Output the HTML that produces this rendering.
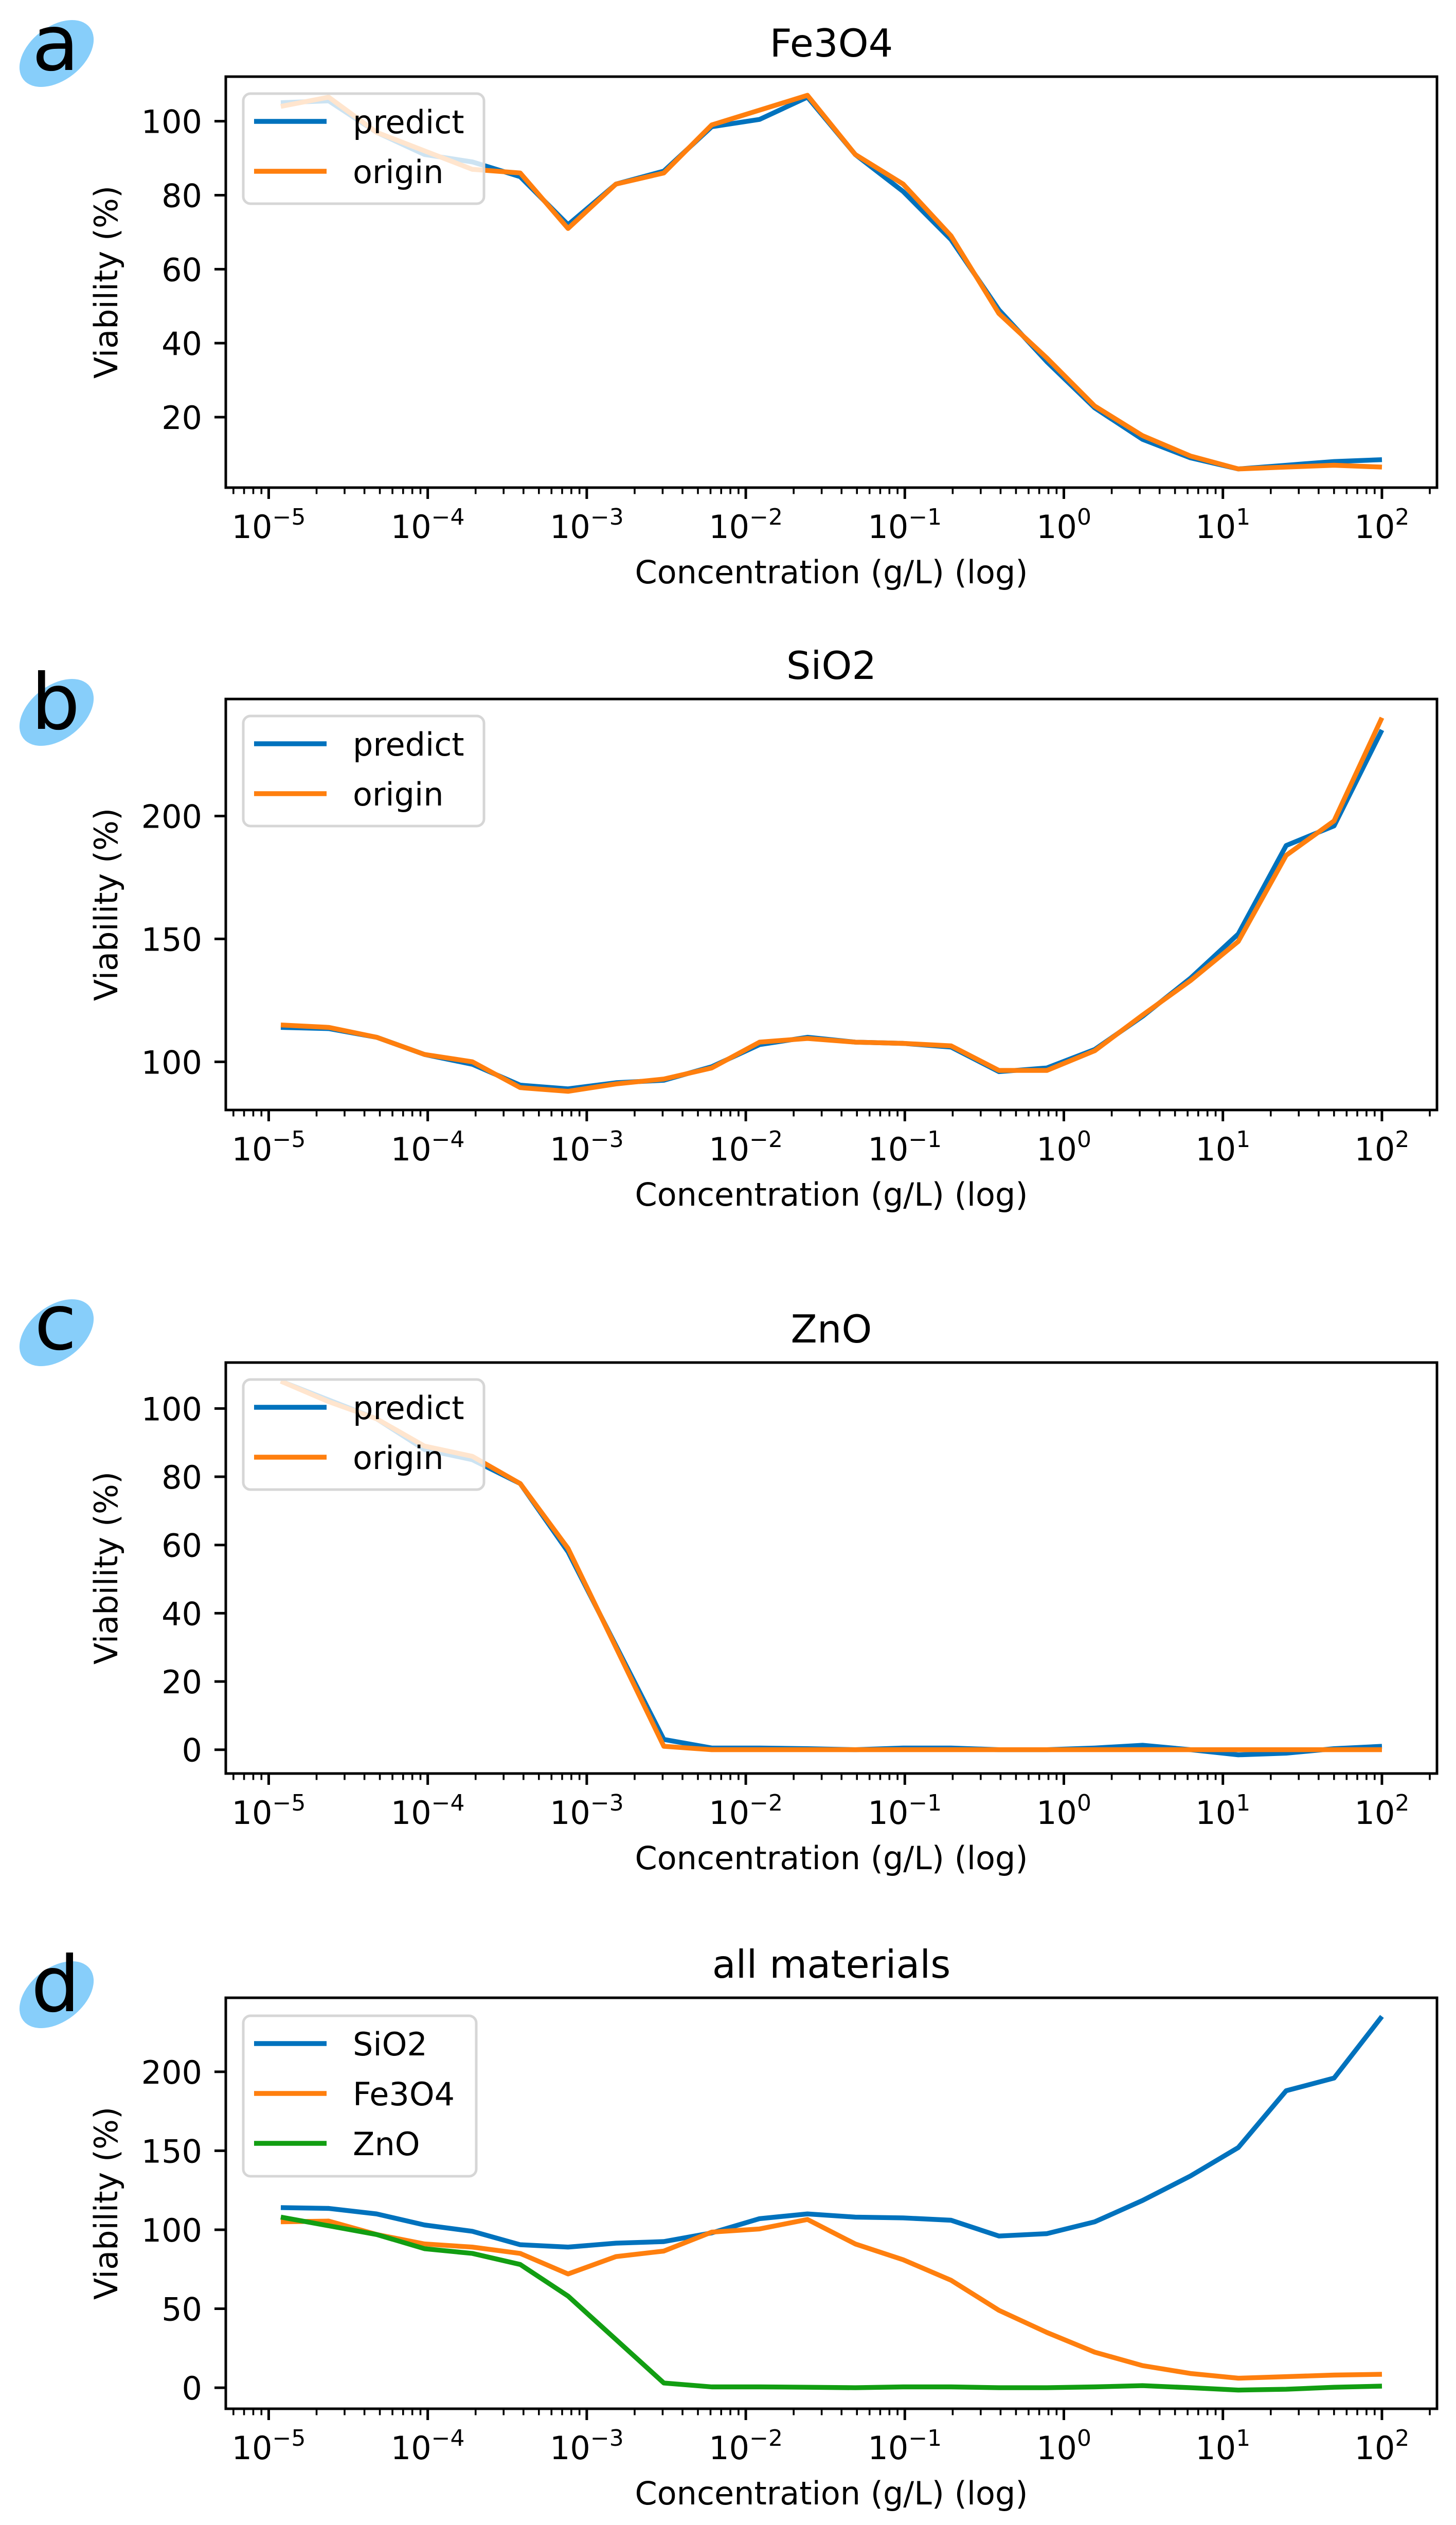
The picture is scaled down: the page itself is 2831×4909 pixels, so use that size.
<!DOCTYPE html>
<html><head><meta charset="utf-8"><style>
html,body{margin:0;padding:0;background:#fff}
svg{display:block;font-family:"DejaVu Sans","Liberation Sans",sans-serif}
</style></head><body>
<svg id="fig" width="2831" height="4909" viewBox="0 0 2831 4909" xmlns="http://www.w3.org/2000/svg"></svg>
<script>
// concentrations (g/L): 100/2^k, k=23..0
const conc = [1.1920929e-5,2.3841858e-5,4.7683716e-5,9.5367432e-5,1.9073486e-4,3.8146973e-4,7.6293945e-4,1.5258789e-3,3.0517578e-3,6.1035156e-3,0.012207031,0.024414063,0.048828125,0.09765625,0.1953125,0.390625,0.78125,1.5625,3.125,6.25,12.5,25,50,100];
const fePredict = [105,105.5,97,91,89,85,72,83,86.5,98.5,100.5,106.5,91,81,68,49,35,22.5,14,9,6,7,8,8.5];
const feOrigin  = [104,106.5,97,92,87,86,71,83,86,99,103,107,91,83,69,48,36,23,15,9.5,6,6.5,7,6.5];
const siPredict = [114,113.5,110,103,99,90.5,89,91.5,92.5,98,107,110,108,107.5,106,96,97.5,105,118.5,134,152,188,196,235];
const siOrigin  = [115,114,110,103,100,89.5,88,91,93,97.5,108,109.5,108,107.5,106.5,96.5,96.5,104.5,119,133,149,184,198,240];
const znPredict = [108,102.5,97,88,85,78,58,30.5,3,0.5,0.5,0.3,0,0.5,0.5,0,0,0.5,1.3,0,-1.5,-1,0.3,1];
const znOrigin  = [108,102,97,89,86,78,59,30,1,0,0,0,0,0,0,0,0,0,0,0,0,0,0,0];
const xTickExps = [-5,-4,-3,-2,-1,0,1,2];
const yTicksA = [20,40,60,80,100];
const yTicksB = [100,150,200];
const yTicksC = [0,20,40,60,80,100];
const yTicksD = [0,50,100,150,200];

const BLUE="#0072bd", ORANGE="#ff7f0e", GREEN="#129e12";
const NS="http://www.w3.org/2000/svg";
const svg=document.getElementById('fig');
function mk(tag,attrs,parent){const e=document.createElementNS(NS,tag);for(const k in attrs)e.setAttribute(k,attrs[k]);(parent||svg).appendChild(e);return e;}

const AX_L=439, AX_R=2794, AX_H=799;
const FS=62, LW=9.4, SW=5, MAJ=22, MIN=12.5;
const lx0=Math.log10(conc[0]), lx1=Math.log10(conc[conc.length-1]);
const xm=(lx1-lx0)*0.05, xmin=lx0-xm, xmax=lx1+xm;
function xS(v){return AX_L+(Math.log10(v)-xmin)/(xmax-xmin)*(AX_R-AX_L);}

function panel(id,letter,letterCY,top,title,series,yTicks,legendTop,legendH){
  const g=mk('g',{});
  
  
  let all=[];series.forEach(s=>all=all.concat(s.data));
  const mn=Math.min(...all), mx=Math.max(...all), m=(mx-mn)*0.05;
  const ymin=mn-m, ymax=mx+m, bot=top+AX_H;
  const yS=v=>bot-(v-ymin)/(ymax-ymin)*AX_H;
  const el=mk('ellipse',{cx:110,cy:letterCY,rx:82,ry:52,fill:"#87cefa",transform:`rotate(-38 110 ${letterCY})`},g);
  
  
  const lt=mk('text',{x:108,y:letterCY+32,'font-size':150,'text-anchor':'middle',fill:'#000'},g);
  lt.textContent=letter;
  
  
  const tt=mk('text',{x:(AX_L+AX_R)/2,y:top-39,'font-size':75,'text-anchor':'middle'},g);
  tt.textContent=title;
  
  
  const clip='clip'+id;
  const cp=mk('clipPath',{id:clip},g);mk('rect',{x:AX_L,y:top,width:AX_R-AX_L,height:AX_H},cp);
  series.forEach(s=>{
    const d=s.data.map((v,i)=>(i?'L':'M')+xS(conc[i]).toFixed(1)+' '+yS(v).toFixed(1)).join(' ');
    const p=mk('path',{d:d,fill:'none',stroke:s.color,'stroke-width':LW,'stroke-linejoin':'round','clip-path':`url(#${clip})`},g);
    
    
  });
  const lg=mk('g',{},g);
  
  
  mk('rect',{x:473,y:legendTop,width:(id==='d'?453:468),height:legendH,rx:14,fill:'#fff','fill-opacity':0.8,stroke:'#d6d6d6','stroke-width':5},lg);
  series.forEach((s,i)=>{
    const yy=legendTop+54+i*97;
    const ln=mk('line',{x1:494,x2:635,y1:yy,y2:yy,stroke:s.color,'stroke-width':LW},lg);
    
    
    const tx=mk('text',{x:686,y:yy+23,'font-size':FS},lg);
    tx.textContent=s.name;
    
    
  });
  const fr=mk('rect',{x:AX_L,y:top,width:AX_R-AX_L,height:AX_H,fill:'none',stroke:'#000','stroke-width':SW},g);
  
  
  for(let e=-6;e<=2;e++){for(let k=1;k<=9;k++){
    const v=k*Math.pow(10,e), lv=Math.log10(v);
    if(lv<xmin||lv>xmax)continue;
    const x=xS(v), len=k===1?MAJ:MIN, w=k===1?SW:3.6;
    mk('line',{x1:x,x2:x,y1:bot,y2:bot+len,stroke:'#000','stroke-width':w},g);
  }}
  xTickExps.forEach(e=>{
    const x=xS(Math.pow(10,e));
    const t=mk('text',{x:x,y:bot+98,'font-size':FS,'text-anchor':'middle'},g);
    const a=mk('tspan',{},t);a.textContent='10';
    const b=mk('tspan',{dy:-26,'font-size':44},t);b.textContent=(e<0?'\u2212':'')+Math.abs(e);
    
    
  });
  const xl=mk('text',{x:(AX_L+AX_R)/2,y:bot+186,'font-size':FS,'text-anchor':'middle'},g);
  xl.textContent='Concentration (g/L) (log)';
  
  
  yTicks.forEach(v=>{
    const y=yS(v);
    mk('line',{x1:AX_L-MAJ,x2:AX_L,y1:y,y2:y,stroke:'#000','stroke-width':SW},g);
    const t=mk('text',{x:AX_L-46,y:y+23,'font-size':FS,'text-anchor':'end'},g);
    t.textContent=v;
    
    
  });
  const cy=top+AX_H/2;
  const yl=mk('text',{x:228,y:cy,'font-size':FS,'text-anchor':'middle',transform:`rotate(-90 228 ${cy})`},g);
  yl.textContent='Viability (%)';
  
  
}

panel('a','a',104,149,'Fe3O4',[{name:'predict',color:BLUE,data:fePredict},{name:'origin',color:ORANGE,data:feOrigin}],yTicksA,182,214);
panel('b','b',1385,1359,'SiO2',[{name:'predict',color:BLUE,data:siPredict},{name:'origin',color:ORANGE,data:siOrigin}],yTicksB,1392,214);
panel('c','c',2591,2649,'ZnO',[{name:'predict',color:BLUE,data:znPredict},{name:'origin',color:ORANGE,data:znOrigin}],yTicksC,2682,214);
panel('d','d',3878,3884,'all materials',[{name:'SiO2',color:BLUE,data:siPredict},{name:'Fe3O4',color:ORANGE,data:fePredict},{name:'ZnO',color:GREEN,data:znPredict}],yTicksD,3919,312);
</script>
</body></html>
